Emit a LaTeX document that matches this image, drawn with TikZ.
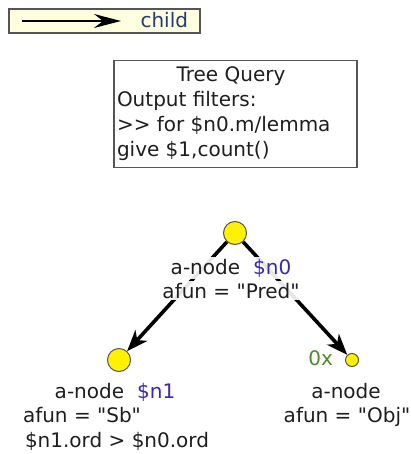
\documentclass[tikz,border=0pt]{standalone}
\usepackage{fontspec}
\setmainfont{DejaVu Sans}[Ligatures=TeXOff]
\usetikzlibrary{arrows.meta}
\definecolor{txt}{HTML}{1E1E1E}
\definecolor{varblue}{HTML}{3A2AA8}
\definecolor{childblue}{HTML}{223A78}
\definecolor{zerogreen}{HTML}{4E8A2A}
\definecolor{legendfill}{HTML}{FFFFE0}
\definecolor{boxborder}{HTML}{555555}
\tikzset{
  lbl/.style={inner sep=0pt, outer sep=0pt, text=txt},
  tlbl/.style={lbl, fill=white, fill opacity=0.9, text opacity=1, inner ysep=2pt, inner xsep=1pt},
  anode/.style={circle, fill=yellow, draw=boxborder, line width=1pt, inner sep=0pt},
  treearrow/.style={line width=3.6pt, black, -{Stealth[length=21pt, width=16pt, inset=6pt]}},
  legendbox/.style={rectangle, draw=boxborder, line width=1.5pt, fill=legendfill, inner sep=0pt},
  querybox/.style={rectangle, draw=boxborder, line width=1.5pt, fill=white, inner sep=0pt},
}
\begin{document}
\begin{tikzpicture}[x=1pt, y=-1pt, font=\fontsize{20}{25}\selectfont]
\useasboundingbox (0,0) rectangle (411,454);
% legend
\node[legendbox, minimum width=191pt, minimum height=24pt] (legend) at (104.5,21) {};
\coordinate (la) at (22,21);
\coordinate (lb) at (121,21);
\draw[line width=1.6pt, black, -{Stealth[length=27pt, width=14pt, inset=9pt]}] (la) -- (lb);
\node[lbl, anchor=base east, text=childblue] (legtext) at (188,28) {child};
% query box
\node[querybox, minimum width=243pt, minimum height=107pt, anchor=north west] (query) at (113,60) {};
\node[lbl, anchor=base] (q0) at (231,82) {Tree Query};
\node[lbl, anchor=base west] (q1) at (117,107) {Output filters:};
\node[lbl, anchor=base west] (q2) at (117,132) {>> for \$n0.m/lemma};
\node[lbl, anchor=base west] (q3) at (117,157) {give \$1,count()};
% tree nodes
\node[anode, minimum size=23pt] (n0) at (235,233) {};
\node[anode, minimum size=23pt] (n1) at (119,360) {};
\node[anode, minimum size=13pt] (n2) at (352,360) {};
\draw[treearrow] (n0) -- (n1);
\draw[treearrow] (n0) -- (n2);
% labels n0
\node[tlbl, anchor=base] (n0a) at (231,274) {a-node\hspace{13pt}\textcolor{varblue}{\$n0}};
\node[tlbl, anchor=base] (n0b) at (231,298) {afun = "Pred"};
% labels n1
\node[tlbl, anchor=base] (n1a) at (115,398) {a-node\hspace{13pt}\textcolor{varblue}{\$n1}};
\node[tlbl, anchor=base west] (n1b) at (22,422) {afun = "Sb"};
\node[tlbl, anchor=base west] (n1c) at (24,447) {\$n1.ord > \$n0.ord};
% labels n2
\node[lbl, anchor=base east, text=zerogreen] (n2z) at (333,365) {0x};
\node[tlbl, anchor=base] (n2a) at (346,398) {a-node};
\node[tlbl, anchor=base] (n2b) at (347,422) {afun = "Obj"};
\end{tikzpicture}
\end{document}
